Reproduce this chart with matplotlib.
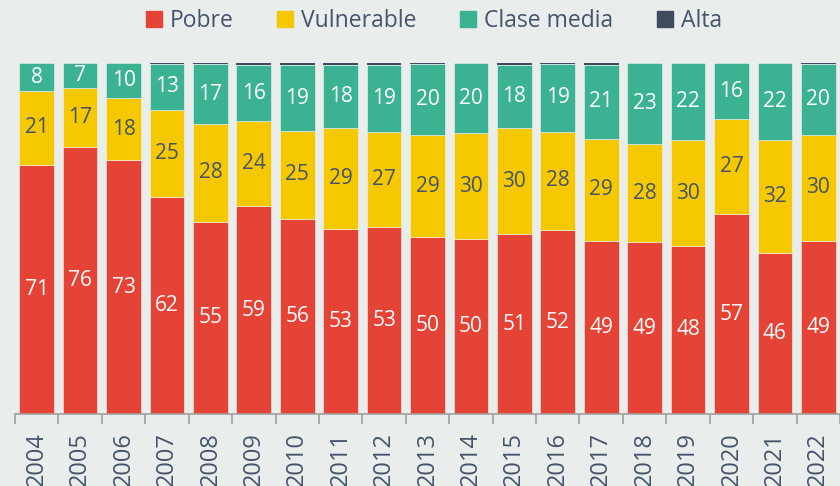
import matplotlib
matplotlib.use("Agg")
import matplotlib.pyplot as plt
import numpy as np
from matplotlib.lines import Line2D

years = ['2004', '2005', '2006', '2007', '2008', '2009', '2010', '2011', '2012', '2013',
         '2014', '2015', '2016', '2017', '2018', '2019', '2020', '2021', '2022']
pobre = [71, 76, 73, 62, 55, 59, 56, 53, 53, 50, 50, 51, 52, 49, 49, 48, 57, 46, 49]
vulnerable = [21, 17, 18, 25, 28, 24, 25, 29, 27, 29, 30, 30, 28, 29, 28, 30, 27, 32, 30]
clase_media = [8, 7, 10, 13, 17, 16, 19, 18, 19, 20, 20, 18, 19, 21, 23, 22, 16, 22, 20]
alta = [0, 0, 0, 0.3, 0.4, 0.6, 0.6, 0.6, 0.6, 0.4, 0.1, 0.5, 0.4, 0.5, 0.1, 0.1, 0.1, 0.1, 0.3]

series = ['Pobre', 'Vulnerable', 'Clase media', 'Alta']
colors = ['#E54335', '#F5C800', '#3BB393', '#3F4B5E']
label_colors = ['white', '#44546A', 'white', None]

bg = '#E9EDEC'
plt.rcParams['font.family'] = ['Open Sans', 'DejaVu Sans']

fig = plt.figure(figsize=(8.4, 4.86), dpi=100, facecolor=bg)
ax = fig.add_axes([15 / 840, 72 / 486, 1 - 15 / 840, 351 / 486])
ax.set_facecolor(bg)

data = np.array([pobre, vulnerable, clase_media, alta], dtype=float)
shares = data / data.sum(axis=0) * 100
x = np.arange(len(years))
bottom = np.zeros(len(years))
for i, name in enumerate(series):
    # the thin Alta sliver gets no light edge so it stays dark
    lw = 0 if name == 'Alta' else 0.4
    ax.bar(x, shares[i], 0.8, bottom=bottom, color=colors[i],
           edgecolor='#F2F4F3', linewidth=lw)
    if label_colors[i]:
        for j in range(len(years)):
            ax.text(x[j], bottom[j] + shares[i][j] / 2, '%d' % data[i][j],
                    ha='center', va='center', fontsize=15, color=label_colors[i])
    bottom += shares[i]

ax.set_xlim(-0.5, -0.5 + 825 / 43.8)
ax.set_ylim(0, 100)
for s in ['top', 'right', 'left']:
    ax.spines[s].set_visible(False)
ax.spines['bottom'].set_color('#A0A0A0')
ax.spines['bottom'].set_linewidth(1.2)
ax.set_yticks([])
ax.set_xticks(x)
ax.set_xticklabels(years, rotation=90, fontsize=17, color='#44546A', va='top')
ax.tick_params(axis='x', which='major', length=0, pad=13)
ax.set_xticks(np.arange(len(years) + 1) - 0.5, minor=True)
ax.tick_params(axis='x', which='minor', length=7, width=1.2, color='#A0A0A0')

handles = [Line2D([], [], marker='s', linestyle='none', markersize=11,
                  markerfacecolor=c, markeredgecolor=c) for c in colors]
fig.legend(handles, series, loc='center', bbox_to_anchor=(434 / 840, 1 - 21 / 486),
           ncol=4, frameon=False, fontsize=16.5, labelcolor='#44546A',
           handlelength=0.7, handletextpad=0.35, columnspacing=1.9,
           borderpad=0, borderaxespad=0)

fig.savefig('out.png', dpi=100, facecolor=bg)
